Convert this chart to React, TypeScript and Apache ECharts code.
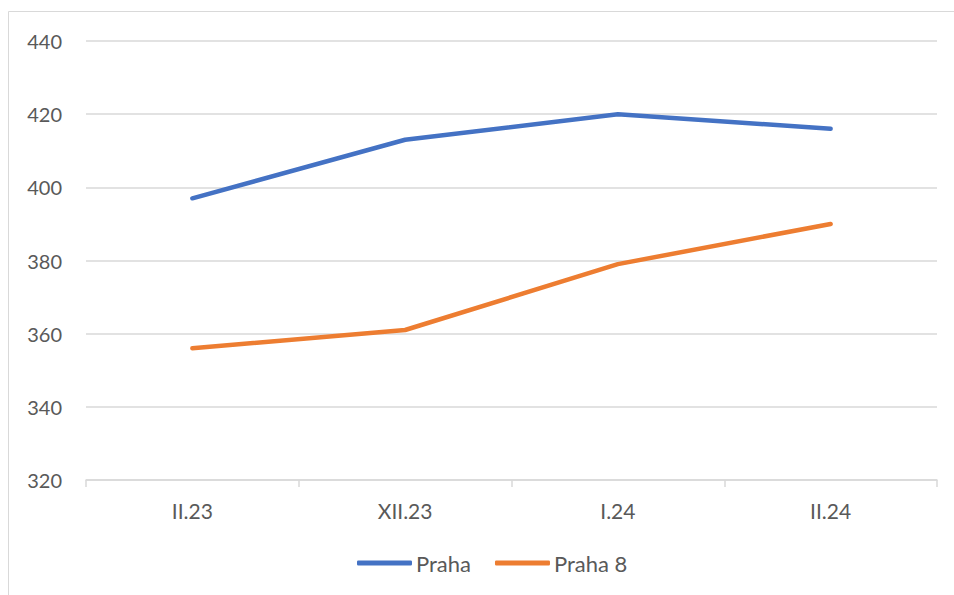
import React, { useEffect, useRef } from "react";
import * as echarts from "echarts";

const categories = ["II.23", "XII.23", "I.24", "II.24"];
const praha = [397, 413, 420, 416];
const praha8 = [356, 361, 379, 390];
const yMin = 320;
const yMax = 440;
const yStep = 20;

export default function App() {
  const ref = useRef<HTMLDivElement>(null);
  useEffect(() => {
    if (!ref.current) return;
    const chart = echarts.init(ref.current, null, { renderer: "svg" });
    const font = "Lato, 'Open Sans', sans-serif";
    chart.setOption({
      animation: false,
      backgroundColor: "#ffffff",
      graphic: [
        {
          type: "rect",
          shape: { x: 8.5, y: 11.5, width: 980, height: 620 },
          style: { fill: "none", stroke: "#d9d9d9", lineWidth: 1 },
          silent: true,
        },
      ],
      grid: { left: 86, right: 17, top: 41, bottom: 115 },
      legend: {
        left: 357,
        top: 552,
        padding: 0,
        itemWidth: 55,
        itemHeight: 5,
        itemGap: 24,
        icon: "roundRect",
        textStyle: { color: "#595959", fontSize: 22, fontFamily: font, padding: [0, 0, 0, -1] },
        data: ["Praha", "Praha 8"],
      },
      xAxis: {
        type: "category",
        data: categories,
        boundaryGap: true,
        axisLine: { lineStyle: { color: "#d9d9d9", width: 1.5 } },
        axisTick: { show: true, length: 7, lineStyle: { color: "#d9d9d9", width: 1.5 } },
        axisLabel: { color: "#595959", fontSize: 21, fontFamily: font, margin: 20 },
        splitLine: { show: false },
      },
      yAxis: {
        type: "value",
        min: yMin,
        max: yMax,
        interval: yStep,
        axisLine: { show: false },
        axisTick: { show: false },
        axisLabel: { color: "#595959", fontSize: 20, fontFamily: font, margin: 24 },
        splitLine: { lineStyle: { color: "#d9d9d9", width: 1.5 } },
      },
      series: [
        {
          name: "Praha",
          type: "line",
          data: praha,
          showSymbol: false,
          symbol: "none",
          lineStyle: { color: "#4472C4", width: 4.5, cap: "round", join: "round" },
          itemStyle: { color: "#4472C4" },
        },
        {
          name: "Praha 8",
          type: "line",
          data: praha8,
          showSymbol: false,
          symbol: "none",
          lineStyle: { color: "#ED7D31", width: 4.5, cap: "round", join: "round" },
          itemStyle: { color: "#ED7D31" },
        },
      ],
    });
    return () => chart.dispose();
  }, []);
  return (
    <div
      ref={ref}
      style={{ position: "absolute", left: 0, top: 0, width: 954, height: 595 }}
    />
  );
}
